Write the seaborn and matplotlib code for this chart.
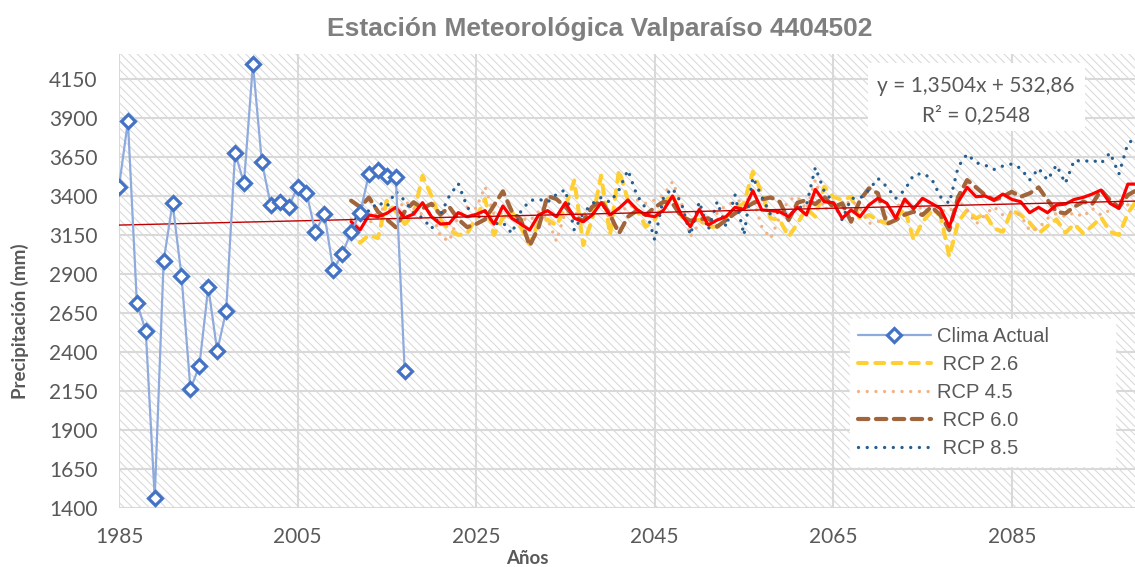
import matplotlib
matplotlib.use("Agg")
import matplotlib.pyplot as plt
from matplotlib.patches import Rectangle
import numpy as np
import seaborn as sns

# ---- data -------------------------------------------------------------
obs_years = list(range(1985, 2018))
clima_actual = [3460, 3880, 2715, 2535, 1464, 2983, 3355, 2887, 2163, 2310,
                2817, 2406, 2663, 3676, 3483, 4246, 3618, 3342, 3361, 3329,
                3458, 3419, 3169, 3285, 2926, 3028, 3169, 3291, 3541, 3567,
                3528, 3522, 2278]

proj_years = list(range(2011, 2100))

rcp26 = [3200, 3100, 3150, 3130, 3370, 3300, 3220, 3280, 3530, 3400,
         3250, 3180, 3150, 3160, 3260, 3380, 3150, 3260, 3300, 3200,
         3090, 3230, 3250, 3210, 3330, 3500, 3085, 3250, 3530, 3150,
         3566, 3374, 3310, 3203, 3246, 3363, 3406, 3267, 3246, 3246,
         3203, 3203, 3267, 3321, 3353, 3556, 3417, 3257, 3246, 3139,
         3224, 3321, 3267, 3460, 3395, 3374, 3395, 3246, 3278, 3246,
         3224, 3257,
         3320, 3117, 3235, 3299, 3278, 3011, 3235, 3310, 3256, 3288,
         3192, 3171, 3310, 3278, 3229, 3160, 3207, 3250, 3164, 3220,
         3160, 3207, 3263, 3171, 3150, 3288, 3374]

rcp45 = [3250, 3280, 3220, 3300, 3330, 3290, 3370, 3320, 3280, 3300,
         3140, 3110, 3270, 3330, 3320, 3460, 3280, 3290, 3250, 3260,
         3240, 3300, 3250, 3110, 3300, 3290, 3280, 3320, 3360, 3250,
         3331, 3310, 3374, 3353, 3374, 3406, 3492, 3353, 3139, 3224,
         3246, 3289, 3342, 3363, 3374, 3385, 3203, 3128, 3267, 3374,
         3395, 3310, 3502, 3310, 3353, 3327, 3374, 3321, 3224, 3235,
         3267, 3331,
         3363, 3310, 3327, 3288, 3310, 3299, 3374, 3310, 3220, 3278,
         3331, 3278, 3299, 3278, 3177, 3192, 3256, 3288, 3267, 3293,
         3267, 3320, 3278, 3310, 3374, 3342, 3331]

rcp60 = [3370, 3330, 3390, 3300, 3250, 3200, 3300, 3360, 3320, 3350,
         3280, 3330, 3250, 3200, 3220, 3250, 3340, 3430, 3300, 3250,
         3080, 3200, 3400, 3380, 3330, 3270, 3240, 3330, 3370, 3280,
         3160, 3267, 3306, 3278, 3327, 3363, 3353, 3267, 3242, 3250,
         3257, 3203, 3246, 3289, 3321, 3353, 3378, 3391, 3363, 3246,
         3357, 3374, 3348, 3395, 3327, 3353, 3235, 3374, 3449, 3417,
         3220, 3246,
         3280, 3299, 3278, 3331, 3278, 3182, 3395, 3502, 3455, 3406,
         3374, 3395, 3427, 3395, 3417, 3455, 3374, 3299, 3288, 3331,
         3363, 3348, 3438, 3374, 3327, 3406, 3438]

rcp85 = [3150, 3350, 3300, 3360, 3330, 3430, 3370, 3290, 3260, 3190,
         3280, 3400, 3480, 3330, 3250, 3300, 3220, 3230, 3160, 3300,
         3370, 3380, 3360, 3410, 3440, 3180, 3290, 3350, 3390, 3360,
         3438, 3566, 3406, 3321, 3118, 3395, 3449, 3353, 3150, 3363,
         3182, 3363, 3203, 3406, 3150, 3519, 3395, 3278, 3299, 3278,
         3321, 3342, 3584, 3428, 3363, 3246, 3385, 3385, 3438, 3513,
         3459, 3385,
         3438, 3534, 3545, 3513, 3395, 3353, 3588, 3669, 3613, 3598,
         3570, 3592, 3605, 3577, 3502, 3577, 3502, 3598, 3481, 3630,
         3620, 3630, 3609, 3677, 3541, 3737, 3776]

promedio = [3235, 3182, 3278, 3267, 3289, 3327, 3261, 3284, 3357, 3267,
            3220, 3224, 3293, 3267, 3282, 3306, 3220, 3336, 3257, 3220,
            3182, 3278, 3306, 3267, 3357, 3257, 3235, 3278, 3357, 3278,
            3321, 3374,
            3314, 3278, 3267, 3310, 3400, 3278, 3203, 3314, 3214, 3246,
            3267, 3327, 3314, 3434, 3310, 3306, 3299, 3267, 3327, 3278,
            3442, 3363, 3357, 3257, 3310, 3267, 3342, 3385, 3353, 3257,
            3380, 3318, 3385, 3353, 3320, 3203, 3363, 3455, 3395, 3400,
            3374, 3412, 3378, 3363, 3293, 3327, 3293, 3342, 3348, 3378,
            3391, 3412, 3438, 3353, 3320, 3476, 3476]

trend_slope = 1.3504
trend_intercept = 532.86
trend_label = "y = 1,3504x + 532,86"
r2_label = "R² = 0,2548"

legend_labels = ["Clima Actual", " RCP 2.6", "RCP 4.5", " RCP 6.0", " RCP 8.5"]
y_ticks = list(range(1400, 4151, 250))
x_ticks = list(range(1985, 2086, 20))

# ---- style ------------------------------------------------------------
sns.set_style("white")
plt.rcParams["font.family"] = ["Lato", "DejaVu Sans"]
plt.rcParams["hatch.color"] = "#d9d9d9"
plt.rcParams["hatch.linewidth"] = 0.75

TXT = "#595959"
NARROW = ["Liberation Sans Narrow", "Liberation Sans", "DejaVu Sans"]

fig = plt.figure(figsize=(11.35, 5.67), dpi=100)
fig.patch.set_facecolor("white")
ax = fig.add_axes([119 / 1135, 59 / 567, 1016 / 1135, 454 / 567])

# hatched plot-area background
ax.set_facecolor("white")
ax.add_patch(Rectangle((0, 0), 1, 1, transform=ax.transAxes, facecolor="white",
                       edgecolor="#d9d9d9", hatch="\\\\\\\\", linewidth=0, zorder=0))

ax.set_axisbelow(True)
ax.grid(True, color="#d9d9d9", linewidth=1.5)
for s in ax.spines.values():
    s.set_visible(False)


def draw(x, y, **kw):
    sns.lineplot(x=x, y=y, ax=ax, **kw)
    return ax.lines[-1]


h26 = draw(proj_years, rcp26, color="#FFCF33", linewidth=2.9,
           linestyle=(0, (2.2, 2.1)), dash_capstyle="round", zorder=2)
h45 = draw(proj_years, rcp45, color="#F4B183", linewidth=2.4,
           linestyle=(0, (0.01, 2.6)), dash_capstyle="round", zorder=2)
h60 = draw(proj_years, rcp60, color="#A2643A", linewidth=3.0,
           linestyle=(0, (2.5, 1.8)), dash_capstyle="round", zorder=2)
h85 = draw(proj_years, rcp85, color="#255E91", linewidth=2.4,
           linestyle=(0, (0.01, 2.6)), dash_capstyle="round", zorder=2)
draw(proj_years, promedio, color="#FF0000", linewidth=2.3, zorder=3)

trend_x = np.array([1985.0, 2100.0])
draw(trend_x, trend_slope * trend_x + trend_intercept, color="#C00000",
     linewidth=1.0, zorder=3.5)

h_obs = draw(obs_years, clima_actual, color="#8FAADC", linewidth=1.6,
             marker="D", markersize=7, markerfacecolor="white",
             markeredgecolor="#4472C4", markeredgewidth=2.3, zorder=4)

ax.set_xlim(1985, 2098.8)
ax.set_ylim(1400, 4310)
ax.set_xticks(x_ticks)
ax.set_yticks(y_ticks)
ax.set_xlabel("")
ax.set_ylabel("")
ax.tick_params(axis="both", length=0, labelsize=15, labelcolor=TXT)
ax.tick_params(axis="y", pad=15.5)
ax.tick_params(axis="x", pad=14)

# trend equation box
ax.add_patch(Rectangle((0.737, 0.830), 0.2136, 0.150, transform=ax.transAxes,
                       facecolor="white", edgecolor="none", zorder=5))
ax.text(0.8435, 0.9295, trend_label, transform=ax.transAxes, ha="center",
        va="center", fontsize=15, color=TXT, zorder=6)
ax.text(0.8435, 0.866, r2_label, transform=ax.transAxes, ha="center",
        va="center", fontsize=15, color=TXT, zorder=6)

leg = ax.legend(handles=[h_obs, h26, h45, h60, h85], labels=legend_labels,
                loc="upper left", bbox_to_anchor=(0.7195, 0.100, 0.2608, 0.316),
                mode="expand", frameon=True, fancybox=False, borderaxespad=0,
                handlelength=3.6, handletextpad=0.3, labelspacing=0.45,
                borderpad=0.4, prop={"family": NARROW, "size": 14.5},
                labelcolor=TXT)
leg.get_frame().set_facecolor("white")
leg.get_frame().set_edgecolor("white")
leg.get_frame().set_alpha(1)
leg.set_zorder(6)

fig.text(600 / 1135, 1 - 29 / 567, "Estación Meteorológica Valparaíso 4404502",
         ha="center", va="center", fontsize=19, fontweight="bold",
         color="#7F7F7F", family=NARROW)
fig.text(20 / 1135, 1 - 321 / 567, "Precipitación (mm)", rotation=90,
         ha="center", va="center", fontsize=13.5, fontweight="bold", color=TXT)
fig.text(527 / 1135, 1 - 558 / 567, "Años", ha="center", va="center",
         fontsize=13.5, fontweight="bold", color=TXT)

fig.savefig("out.png", dpi=100, facecolor="white")
